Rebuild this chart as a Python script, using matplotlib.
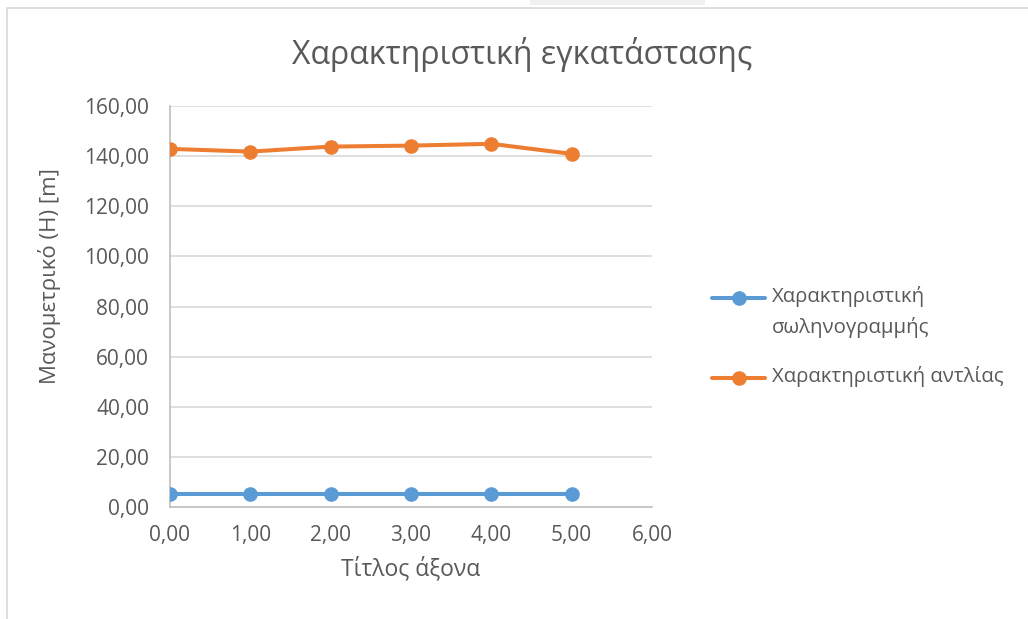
import matplotlib
matplotlib.use("Agg")
import matplotlib.pyplot as plt
import matplotlib.patches as mpatches
from matplotlib.lines import Line2D
from matplotlib.ticker import FuncFormatter, MultipleLocator

plt.rcParams['font.family'] = ['Open Sans', 'DejaVu Sans']

# Flow points and heads
flow = [0, 1, 2, 3, 4, 5]
pipe_head = [5.2, 5.2, 5.2, 5.2, 5.2, 5.2]
pump_head = [142.9, 141.8, 143.8, 144.2, 144.9, 140.9]

pipe_label = 'Χαρακτηριστική\nσωληνογραμμής'
pump_label = 'Χαρακτηριστική αντλίας'
title = 'Χαρακτηριστική εγκατάστασης'
xlabel = 'Τίτλος άξονα'
ylabel = 'Μανομετρικό (H) [m]'

text_color = '#595959'
grid_color = '#d9d9d9'
blue = '#5b9bd5'
orange = '#ed7d31'

W, H = 1028, 619
fig = plt.figure(figsize=(W / 100, H / 100), dpi=100, facecolor='white')

# chart area outline
fig.patches.append(mpatches.Rectangle((7 / W, -0.1), 1.2, 1 - 8 / H + 0.1,
                                      transform=fig.transFigure, fill=False,
                                      edgecolor=grid_color, linewidth=1.2))
fig.patches.append(mpatches.Rectangle((530 / W, 1 - 5 / H), 175 / W, 5 / H,
                                      transform=fig.transFigure, facecolor='#f0f0f0',
                                      edgecolor='none'))

left, right, bottom, top = 170, 652, 507, 106
ax = fig.add_axes([left / W, 1 - bottom / H, (right - left) / W, (bottom - top) / H])

line_kw = dict(lw=2.9, marker='o', ms=9.5, solid_capstyle='round')
ax.plot(flow, pipe_head, color=blue, zorder=3, **line_kw)
ax.plot(flow, pump_head, color=orange, zorder=3, **line_kw)

ax.set_xlim(0, 6)
ax.set_ylim(0, 160)
ax.xaxis.set_major_locator(MultipleLocator(1))
ax.yaxis.set_major_locator(MultipleLocator(20))
fmt = FuncFormatter(lambda v, p: f'{v:.2f}'.replace('.', ','))
ax.xaxis.set_major_formatter(fmt)
ax.yaxis.set_major_formatter(fmt)

ax.yaxis.grid(True, color=grid_color, lw=1.2)
ax.set_axisbelow(True)
for s in ['top', 'right']:
    ax.spines[s].set_visible(False)
for s in ['left', 'bottom']:
    ax.spines[s].set_color('#bfbfbf')
    ax.spines[s].set_linewidth(1.2)
ax.tick_params(length=0, labelsize=15, labelcolor=text_color)
ax.tick_params(axis='x', pad=13)
ax.tick_params(axis='y', pad=15)

ax.set_xlabel(xlabel, fontsize=16.5, color=text_color, va='center')
ax.set_ylabel(ylabel, fontsize=16, color=text_color, va='center')
ax.xaxis.set_label_coords((left + right) / 2 / W, 1 - 569 / H, transform=fig.transFigure)
ax.yaxis.set_label_coords(50 / W, 1 - 276 / H, transform=fig.transFigure)

fig.text(522 / W, 1 - 54 / H, title, ha='center', va='center',
         fontsize=23, color=text_color)

# legend: handle sits on the first line of its label
for label, color, y in [(pipe_label, blue, 298), (pump_label, orange, 378)]:
    yf = 1 - y / H
    fig.add_artist(Line2D([712 / W, 765 / W], [yf, yf], color=color, lw=2.9,
                          solid_capstyle='round', transform=fig.transFigure))
    fig.add_artist(Line2D([738.5 / W], [yf], color=color, marker='o', ms=9.5,
                          transform=fig.transFigure))
    fig.text(772 / W, yf + 12 / H, label, ha='left', va='top', fontsize=14.7,
             color=text_color, linespacing=1.6, transform=fig.transFigure)

fig.savefig('out.png', dpi=100)
